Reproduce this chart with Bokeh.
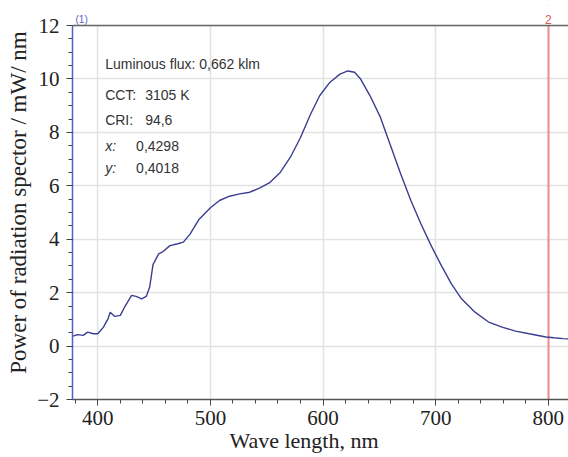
from bokeh.plotting import figure
from bokeh.models import Range1d, FixedTicker, Span, Label, Grid, BoxAnnotation
from bokeh.embed import file_html
from bokeh.resources import INLINE

# ---- data ----
wavelength_nm = [378, 382, 387, 391, 396, 400, 405, 409, 411, 415, 420, 424, 430, 434,
                 439, 443, 446, 449, 454, 458, 464, 471, 476, 482, 490, 500, 508, 517,
                 526, 535, 544, 553, 562, 571, 580, 589, 597, 606, 615, 622, 628, 633,
                 642, 651, 660, 669, 678, 687, 696, 705, 714, 723, 735, 747, 759, 771,
                 783, 798, 805, 813, 818]
power_mw_nm = [0.37, 0.43, 0.40, 0.52, 0.46, 0.46, 0.71, 1.02, 1.27, 1.11, 1.15, 1.48, 1.90, 1.86,
               1.77, 1.86, 2.20, 3.05, 3.45, 3.54, 3.76, 3.83, 3.89, 4.20, 4.75, 5.18, 5.45, 5.61,
               5.70, 5.76, 5.92, 6.13, 6.50, 7.07, 7.81, 8.69, 9.37, 9.87, 10.18, 10.30, 10.25, 10.02,
               9.35, 8.56, 7.50, 6.44, 5.45, 4.57, 3.76, 3.02, 2.33, 1.77, 1.27, 0.90, 0.71, 0.56,
               0.46, 0.34, 0.31, 0.28, 0.27]
x_ticks = [400, 500, 600, 700, 800]
x_minor_ticks = [380, 420, 440, 460, 480, 520, 540, 560, 580, 620, 640, 660, 680, 720, 740, 760, 780, 800]
y_ticks = [-2, 0, 2, 4, 6, 8, 10, 12]
y_minor_ticks = [v / 2 for v in range(-4, 25)]
marker_nm = 800
flux_text = "Luminous flux: 0,662 klm"
param_names = ["CCT:", "CRI:", "x:", "y:"]
param_values = ["3105 K", "94,6", "0,4298", "0,4018"]

SERIF = "Liberation Serif"
SANS = "Liberation Sans"
Y_MIN, Y_MAX = -2, 12

p = figure(width=568, height=457, output_backend="svg", toolbar_location=None,
           x_range=Range1d(377.5, 818), y_range=Range1d(Y_MIN, 12.75),
           min_border_left=72, min_border_right=0, min_border_top=5, min_border_bottom=58)
p.outline_line_color = None
p.background_fill_color = "white"
p.border_fill_color = "white"

# grid
p.xgrid.ticker = FixedTicker(ticks=x_ticks)
p.ygrid.ticker = FixedTicker(ticks=y_ticks)
p.grid.grid_line_color = "#e2e2e2"
p.grid.grid_line_width = 1.5

# red marker line as a single grid line
p.add_layout(Grid(dimension=0, ticker=FixedTicker(ticks=[marker_nm]),
                  grid_line_color="#ef8c8c", grid_line_width=2))

# blank strip above the data area (hides grid lines there)
p.add_layout(BoxAnnotation(bottom=Y_MAX, fill_color="white", fill_alpha=1.0,
                           line_color=None, level="underlay"))

# axes
p.xaxis.ticker = FixedTicker(ticks=x_ticks, minor_ticks=x_minor_ticks)
p.yaxis.ticker = FixedTicker(ticks=y_ticks, minor_ticks=y_minor_ticks)
p.yaxis.bounds = (Y_MIN, Y_MAX)
p.yaxis.major_label_overrides = {-2: "\u22122"}
for ax in (p.xaxis[0], p.yaxis[0]):
    ax.major_label_text_font = SERIF
    ax.major_label_text_font_size = "21px"
    ax.major_label_text_color = "#222222"
    ax.major_tick_in = 0
    ax.major_tick_out = 6
    ax.minor_tick_in = 0
    ax.minor_tick_out = 4
    ax.major_tick_line_color = "#444444"
    ax.minor_tick_line_color = "#444444"
p.xaxis.major_label_standoff = 5
p.yaxis.major_label_standoff = 7
p.xaxis.axis_line_color = "#555555"
p.xaxis.axis_line_width = 1.5
p.yaxis.axis_line_color = "#5a5ec8"
p.yaxis.axis_line_width = 1.5
p.yaxis.axis_label = "Power of radiation spector / mW/ nm"
p.xaxis.axis_label = "Wave length, nm" + "\u00a0" * 6
for ax in (p.xaxis[0], p.yaxis[0]):
    ax.axis_label_text_font = SERIF
    ax.axis_label_text_font_style = "normal"
    ax.axis_label_text_color = "#222222"
p.xaxis.axis_label_text_font_size = "22px"
p.yaxis.axis_label_text_font_size = "23px"
p.yaxis.axis_label_standoff = 3
p.xaxis.axis_label_standoff = 0

# top border
p.add_layout(Span(location=Y_MAX, dimension="width", line_color="#666666", line_width=1.5))

# labels above the top border
p.add_layout(Label(x=marker_nm, y=Y_MAX, y_offset=2, text="2", text_color="#dd5555",
                   text_align="center", text_baseline="bottom", text_font=SANS,
                   text_font_size="12px"))
p.add_layout(Label(x=377.5, y=Y_MAX, x_offset=3, y_offset=1, text="(1)", text_color="#5a5ec8",
                   text_align="left", text_baseline="bottom", text_font=SANS,
                   text_font_size="10px"))

# spectrum
p.line(wavelength_nm, power_mw_nm, line_color="#3b3e8f", line_width=1.4)

# info text
info_style = dict(text_font=SANS, text_font_size="14px", text_color="#333333",
                  text_baseline="middle", text_align="left")
p.add_layout(Label(x=406.5, y=10.56, text=flux_text, **info_style))
row_y = [9.41, 8.47, 7.50, 6.65]
val_x = [442, 442, 434, 434]
for name, val, yy, vx in zip(param_names, param_values, row_y, val_x):
    style = "italic" if len(name) == 2 else "normal"
    p.add_layout(Label(x=406.5, y=yy, text=name, text_font_style=style, **info_style))
    p.add_layout(Label(x=vx, y=yy, text=val, **info_style))

open("out.html", "w").write(file_html(p, INLINE))
